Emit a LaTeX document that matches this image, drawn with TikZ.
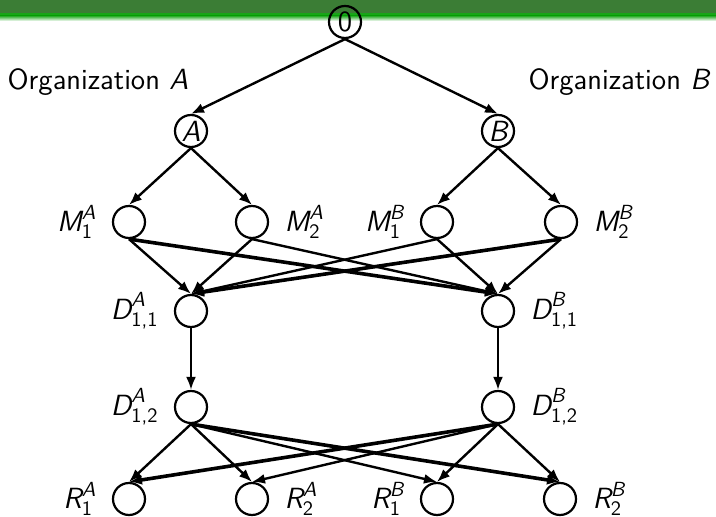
\documentclass[tikz,border=0pt]{standalone}
\usepackage{amsmath}
\usetikzlibrary{arrows.meta,positioning}
% sans-serif letters inside formulas
\newcommand\mv[1]{\text{\sffamily\itshape #1}}
\newcommand\mn[1]{\text{\sffamily #1}}
\definecolor{barDark}{RGB}{59,125,53}
\definecolor{barLight}{RGB}{24,165,24}

\begin{document}
\begin{tikzpicture}[x=0.5pt,y=-0.5pt,
  every node/.style={font=\fontsize{14.6}{17}\selectfont\sffamily},
  st/.style={circle,draw,line width=1.1pt,minimum size=16pt,inner sep=0pt},
  arr/.style={line width=1.2pt,-{Latex[length=6.5pt,width=5pt]}},
  heavy/.style={arr,line width=1.8pt},
  lab/.style={inner sep=0pt}]
\useasboundingbox (0,0) rectangle (716,517);

% title bar
\fill[barDark] (0,0) rectangle (716,13);
\fill[barLight] (0,13) rectangle (716,15.5);
\shade[top color=barLight, bottom color=white] (0,15.5) rectangle (716,21);

% states
\node[st] (n0) at (345,22) {0};
\node[st] (na) at (191,131) {\itshape A};
\node[st] (nb) at (498,131) {\itshape B};

\node[st] (m1a) at (129,222) {};
\node[st] (m2a) at (252,222) {};
\node[st] (m1b) at (437,222) {};
\node[st] (m2b) at (561,222) {};

\node[st] (d1a) at (191,311) {};
\node[st] (d1b) at (498,311) {};
\node[st] (d2a) at (191,407) {};
\node[st] (d2b) at (498,407) {};

\node[st] (r1a) at (129,499) {};
\node[st] (r2a) at (252,499) {};
\node[st] (r1b) at (437,499) {};
\node[st] (r2b) at (560,499) {};

% labels
\node (orga) at (98,82) {Organization {\itshape A}};
\node (orgb) at (619,82) {Organization {\itshape B}};

\node[lab,left=7.5pt of m1a] (lm1a) {$\mv{M}_{\mn{1}}^{\mv{A}}$};
\node[lab,right=7.5pt of m2a] (lm2a) {$\mv{M}_{\mn{2}}^{\mv{A}}$};
\node[lab,left=7.5pt of m1b] (lm1b) {$\mv{M}_{\mn{1}}^{\mv{B}}$};
\node[lab,right=7.5pt of m2b] (lm2b) {$\mv{M}_{\mn{2}}^{\mv{B}}$};

\node[lab,left=7.5pt of d1a] (ld1a) {$\mv{D}_{\mn{1,1}}^{\mv{A}}$};
\node[lab,right=7.5pt of d1b] (ld1b) {$\mv{D}_{\mn{1,1}}^{\mv{B}}$};
\node[lab,left=7.5pt of d2a] (ld2a) {$\mv{D}_{\mn{1,2}}^{\mv{A}}$};
\node[lab,right=7.5pt of d2b] (ld2b) {$\mv{D}_{\mn{1,2}}^{\mv{B}}$};

\node[lab,left=7.5pt of r1a] (lr1a) {$\mv{R}_{\mn{1}}^{\mv{A}}$};
\node[lab,right=7.5pt of r2a] (lr2a) {$\mv{R}_{\mn{2}}^{\mv{A}}$};
\node[lab,left=7.5pt of r1b] (lr1b) {$\mv{R}_{\mn{1}}^{\mv{B}}$};
\node[lab,right=7.5pt of r2b] (lr2b) {$\mv{R}_{\mn{2}}^{\mv{B}}$};

% transitions
\draw[arr] (n0.south) -- (na.north);
\draw[arr] (n0.south) -- (nb.north);

\draw[arr] (na.south) -- (m1a.north);
\draw[arr] (na.south) -- (m2a.north);
\draw[arr] (nb.south) -- (m1b.north);
\draw[arr] (nb.south) -- (m2b.north);

\draw[arr] (m1a.south) -- (d1a.north);
\draw[heavy] (m1a.south) -- (d1b.north);
\draw[arr] (m2a.south) -- (d1a.north);
\draw[arr] (m2a.south) -- (d1b.north);
\draw[arr] (m1b.south) -- (d1a.north);
\draw[arr] (m1b.south) -- (d1b.north);
\draw[heavy] (m2b.south) -- (d1a.north);
\draw[arr] (m2b.south) -- (d1b.north);

\draw[arr] (d1a.south) -- (d2a.north);
\draw[arr] (d1b.south) -- (d2b.north);

\draw[arr] (d2a.south) -- (r1a.north);
\draw[arr] (d2a.south) -- (r2a.north);
\draw[arr] (d2a.south) -- (r1b.north);
\draw[heavy] (d2a.south) -- (r2b.north);
\draw[heavy] (d2b.south) -- (r1a.north);
\draw[arr] (d2b.south) -- (r2a.north);
\draw[arr] (d2b.south) -- (r1b.north);
\draw[arr] (d2b.south) -- (r2b.north);
\end{tikzpicture}
\end{document}
